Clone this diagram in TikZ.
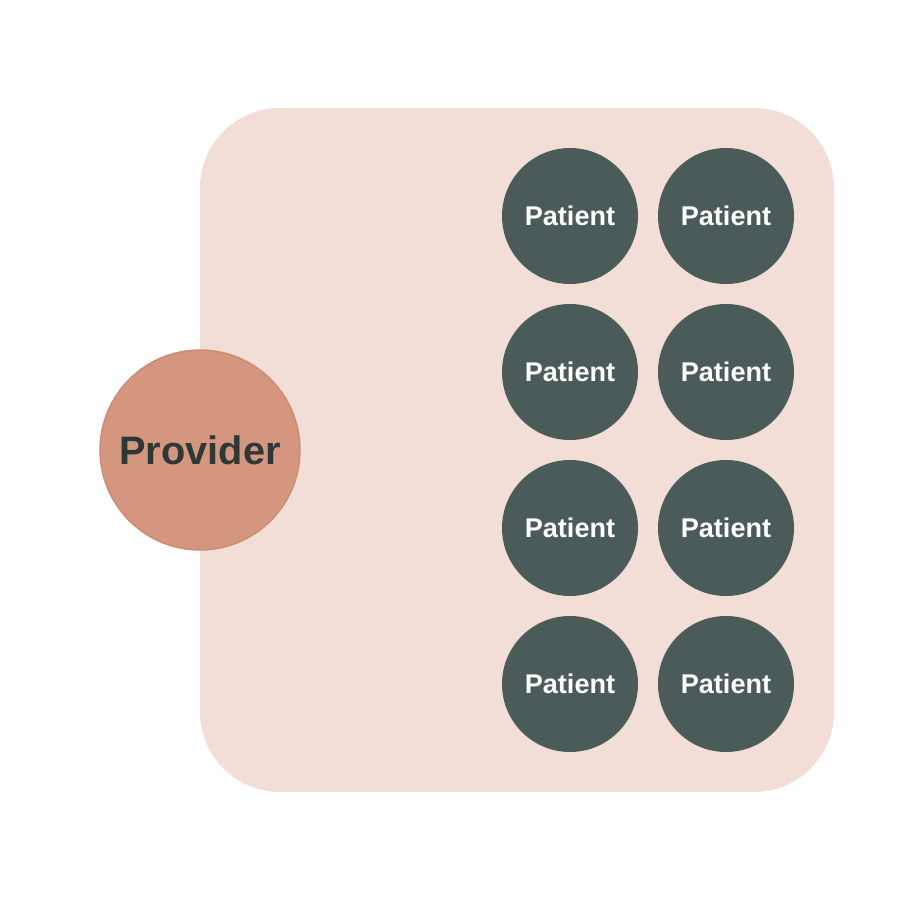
\documentclass[tikz,border=0pt]{standalone}
\usepackage{fontspec}
\setmainfont{Liberation Sans}
\definecolor{panelpink}{HTML}{F2DDD7}
\definecolor{providerfill}{HTML}{D4967E}
\definecolor{providerline}{HTML}{CC8C74}
\definecolor{patientfill}{HTML}{4A5B59}
\definecolor{darktext}{HTML}{2E3836}
\tikzset{
  provider/.style={circle, fill=providerfill, draw=providerline, line width=0.4pt,
    minimum size=2cm, inner sep=0pt, text=darktext, font=\fontsize{11.3}{13}\selectfont\bfseries},
  patient/.style={circle, fill=patientfill, minimum size=1.36cm, inner sep=0pt,
    text=white, font=\fontsize{7.7}{9}\selectfont\bfseries}
}
\begin{document}
\begin{tikzpicture}
        \useasboundingbox (0, 0) rectangle (9, 9);
        
        % panel
        \fill[panelpink, rounded corners=0.8cm] (2, 1.08) rectangle (8.34, 7.92);
        
        % provider
        \node[provider] (provider) at (2, 4.5) {Provider};
        
        % patients, left column
        \node[patient] (patientA) at (5.7, 6.84) {Patient};
        \node[patient] (patientB) at (5.7, 5.28) {Patient};
        \node[patient] (patientC) at (5.7, 3.72) {Patient};
        \node[patient] (patientD) at (5.7, 2.16) {Patient};
        
        % patients, right column
        \node[patient] (patientE) at (7.26, 6.84) {Patient};
        \node[patient] (patientF) at (7.26, 5.28) {Patient};
        \node[patient] (patientG) at (7.26, 3.72) {Patient};
        \node[patient] (patientH) at (7.26, 2.16) {Patient};
    \end{tikzpicture}
\end{document}
